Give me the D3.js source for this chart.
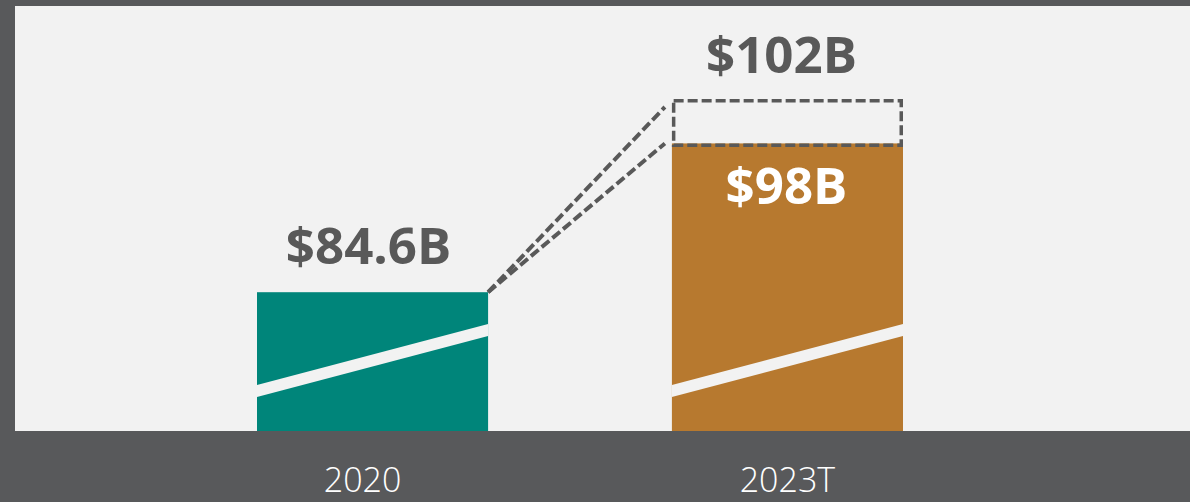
<!DOCTYPE html>
<html>
<head>
<meta charset="utf-8">
<script src="https://cdn.jsdelivr.net/npm/d3@7"></script>
<style>
  html, body { margin: 0; padding: 0; background: #58595b; }
  svg { display: block; }
</style>
</head>
<body>
<div id="chart"></div>
<script>
// data
const categories = ["2020", "2023T"];
const values = [84.6, 98];
const target = 102;              // dashed projection on top of 2023T
const valueLabels = ["$84.6B", "$98B"];
const targetLabel = "$102B";

const W = 1190, H = 502;
const panel = { left: 15, top: 6, right: 1190, bottom: 431 };

const svg = d3.select("#chart")
    .append("svg")
    .attr("width", W)
    .attr("height", H);

svg.append("rect")
    .attr("width", W)
    .attr("height", H)
    .attr("fill", "#58595b");

svg.append("rect")
    .attr("x", panel.left)
    .attr("y", panel.top)
    .attr("width", panel.right - panel.left)
    .attr("height", panel.bottom - panel.top)
    .attr("fill", "#f2f2f2");

const x = d3.scaleBand()
    .domain(categories)
    .range([257, 903])
    .paddingInner(0.443)
    .paddingOuter(0);

// truncated axis (broken bars)
const y = d3.scaleLinear()
    .domain([72.1, 102])
    .range([panel.bottom, 99]);

const colors = ["#00857a", "#b7792f"];
const bw = x.bandwidth();

svg.append("g")
    .selectAll("rect")
    .data(categories)
    .enter()
    .append("rect")
    .attr("x", d => x(d))
    .attr("y", (d, i) => y(values[i]))
    .attr("width", bw)
    .attr("height", (d, i) => panel.bottom - y(values[i]))
    .attr("fill", (d, i) => colors[i]);

// axis break band across each bar
svg.append("g")
    .selectAll("path")
    .data(categories)
    .enter()
    .append("path")
    .attr("d", d => {
        const x0 = x(d), x1 = x(d) + bw, b = panel.bottom;
        return `M${x0},${b - 46} L${x1},${b - 107} L${x1},${b - 95} L${x0},${b - 34} Z`;
    })
    .attr("fill", "#f2f2f2");

// dashed projection box
const last = categories[1];
const gray = "#595959";
svg.append("rect")
    .attr("x", x(last) + 1.75)
    .attr("y", y(target) + 1.75)
    .attr("width", bw - 3.5)
    .attr("height", y(values[1]) - y(target))
    .attr("fill", "none")
    .attr("stroke", gray)
    .attr("stroke-width", 3.5)
    .attr("stroke-dasharray", "10,4");

// connector lines from 2020 bar to projection
const sx = x(categories[0]) + bw, sy = y(values[0]);
[target, values[1]].forEach(v => {
    svg.append("line")
        .attr("x1", sx)
        .attr("y1", sy)
        .attr("x2", x(last) - 7)
        .attr("y2", y(v) + (v === target ? 8 : 0))
        .attr("stroke", gray)
        .attr("stroke-width", 4)
        .attr("stroke-dasharray", "10,4");
});

// value labels
svg.append("text")
    .attr("x", x(categories[0]) + bw / 2 - 4)
    .attr("y", y(values[0]) - 28)
    .attr("text-anchor", "middle")
    .attr("font-family", "'Open Sans', sans-serif")
    .attr("font-weight", 700)
    .attr("font-size", 51)
    .attr("fill", gray)
    .text(valueLabels[0]);

svg.append("text")
    .attr("x", x(last) + bw / 2 - 1)
    .attr("y", y(values[1]) + 61)
    .attr("text-anchor", "middle")
    .attr("font-family", "'Open Sans', sans-serif")
    .attr("font-weight", 700)
    .attr("font-size", 51)
    .attr("fill", "#ffffff")
    .text(valueLabels[1]);

svg.append("text")
    .attr("x", x(last) + bw / 2 - 6)
    .attr("y", y(target) - 26)
    .attr("text-anchor", "middle")
    .attr("font-family", "'Open Sans', sans-serif")
    .attr("font-weight", 700)
    .attr("font-size", 51)
    .attr("fill", gray)
    .text(targetLabel);

// category axis
const xAxis = d3.axisBottom(x).tickSize(0).tickPadding(0);
const axisG = svg.append("g")
    .attr("transform", `translate(0, ${panel.bottom})`)
    .call(xAxis);
axisG.select(".domain").remove();
axisG.selectAll("text")
    .attr("dy", null)
    .attr("y", 61)
    .attr("font-family", "'Open Sans', sans-serif")
    .attr("font-weight", 300)
    .attr("font-size", 34)
    .attr("fill", "#ffffff");
axisG.selectAll(".tick")
    .filter(d => d === "2020")
    .select("text")
    .attr("x", -10);
</script>
</body>
</html>
